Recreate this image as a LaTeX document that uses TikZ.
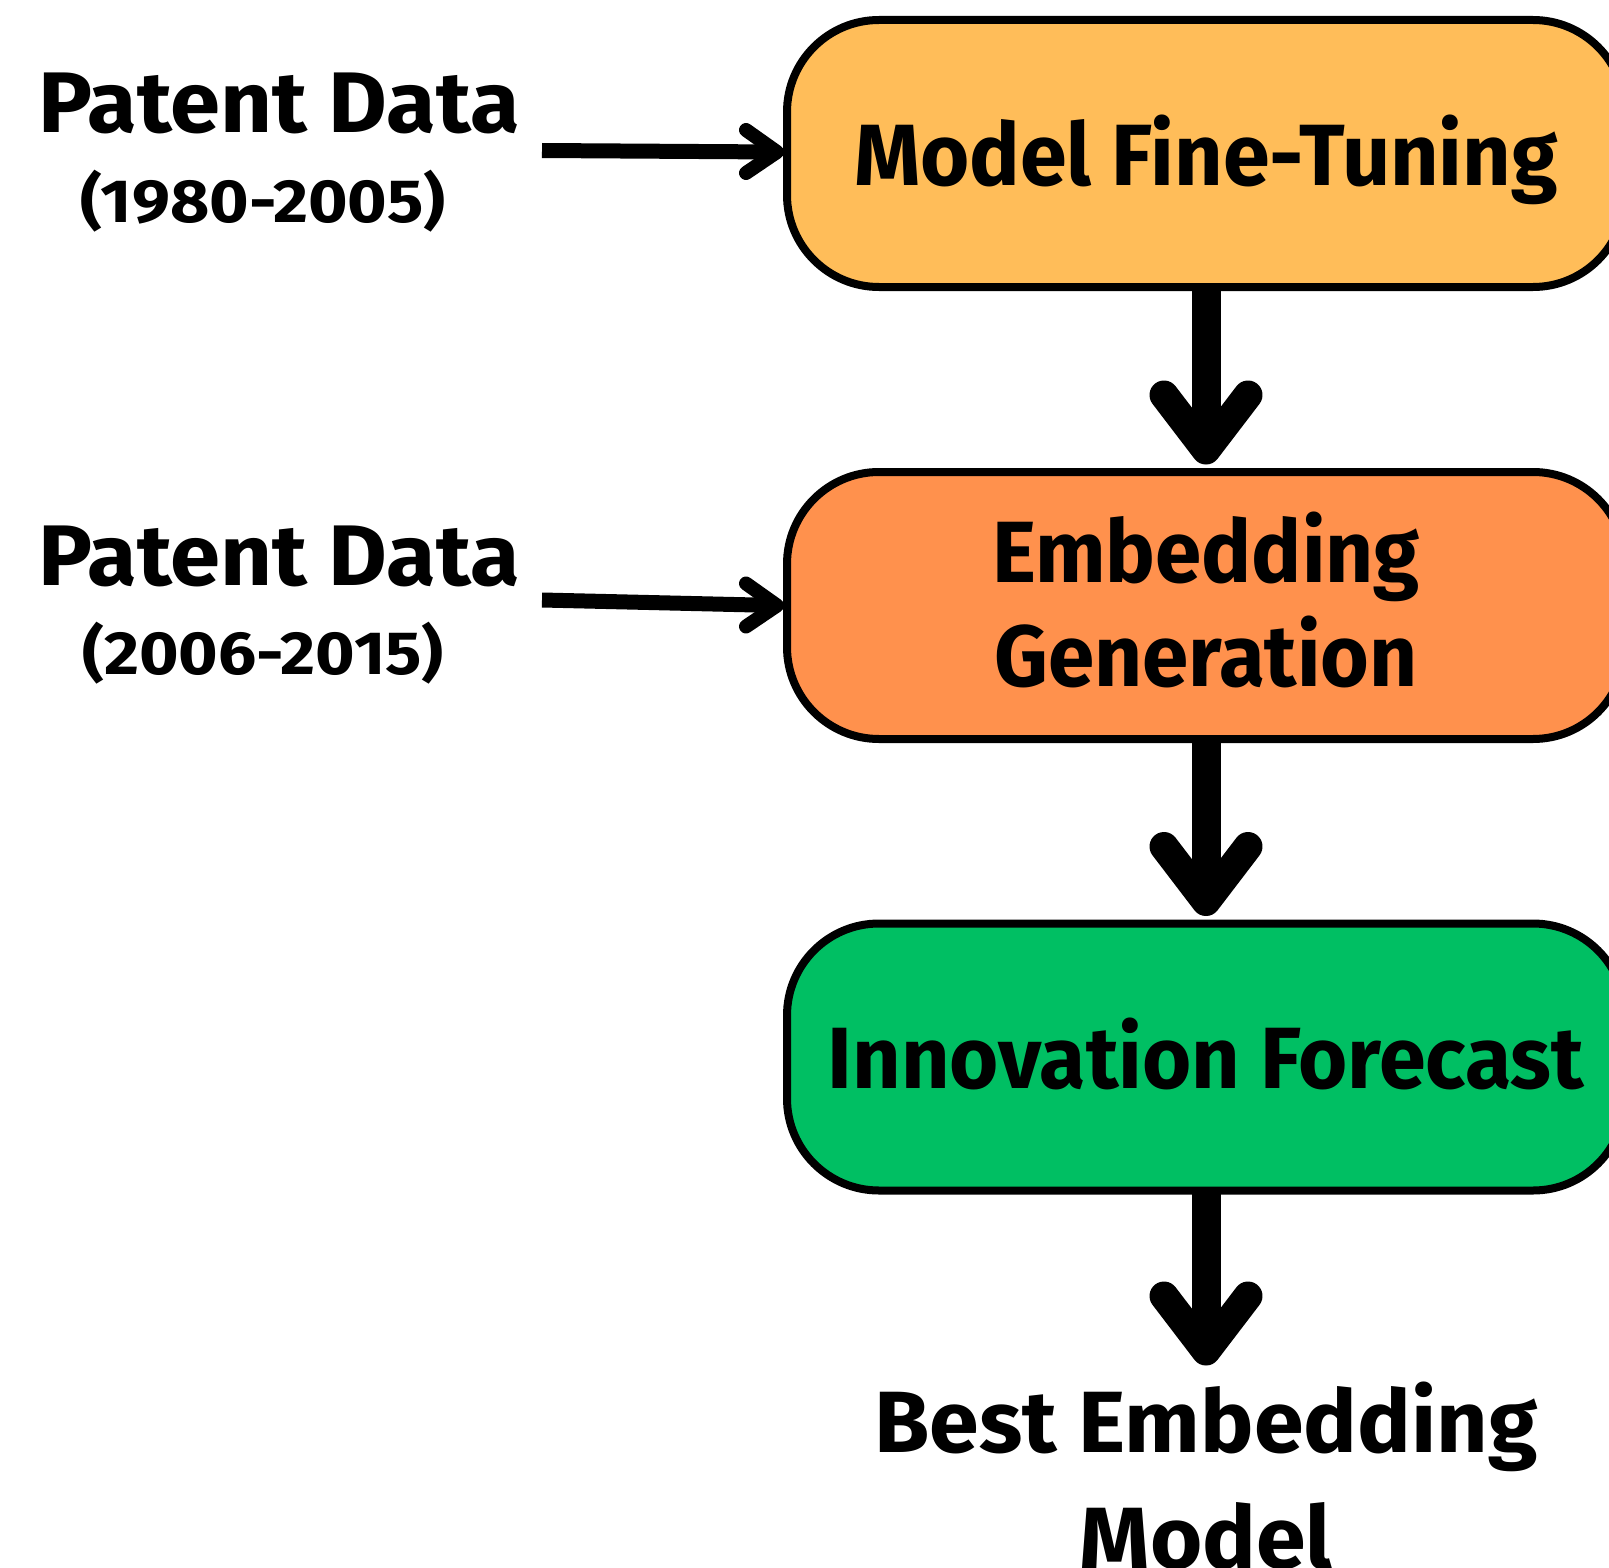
\documentclass[tikz,border=0pt]{standalone}
\usepackage{fontspec}
\setmainfont{Fira Sans}
\newfontfamily\boxfont{Fira Sans}[FakeStretch=0.97]
\newfontfamily\embfont{Fira Sans}[FakeStretch=0.96]
\newfontfamily\titlefont{Fira Sans}[FakeStretch=1.05]
\newfontfamily\yearfont{Fira Sans}[FakeStretch=1.11]
\newfontfamily\outfont{Fira Sans}[FakeStretch=1.03]
\usetikzlibrary{calc}
\definecolor{boxA}{HTML}{FFBD59}
\definecolor{boxB}{HTML}{FF914D}
\definecolor{boxC}{HTML}{00BF63}
\begin{document}
\begin{tikzpicture}[x=1pt,y=-1pt,
  stage/.style={draw=black, line width=8pt, rounded corners=92pt,
    minimum width=838pt, minimum height=267pt, inner sep=0pt, outer sep=0pt,
    align=center, font=\boxfont\bfseries\fontsize{87}{104}\selectfont},
  title/.style={font=\titlefont\bfseries\fontsize{86}{100}\selectfont, inner sep=0pt, anchor=base},
  years/.style={font=\yearfont\bfseries\fontsize{61}{70}\selectfont, inner sep=0pt, anchor=base},
  outtext/.style={font=\outfont\bfseries\fontsize{87}{116}\selectfont, inner sep=0pt, anchor=base, align=center},
  hshaft/.style={line width=15pt},
  hchev/.style={line width=14pt, line cap=round, line join=round},
  dshaft/.style={line width=29pt},
  dchev/.style={line width=29pt, line cap=round, line join=round}
]
\useasboundingbox (0,0) rectangle (1609,1568);

\node[stage, fill=boxA, text height=63pt, text depth=0pt] (b1) at (1206,153.5) {Model Fine-Tuning};
\node[stage, fill=boxB, text height=161pt, text depth=0pt, font=\embfont\bfseries\fontsize{87}{104}\selectfont] (b2) at (1206,605.5) {Embedding\\Generation};
\node[stage, fill=boxC, text height=63pt, text depth=0pt] (b3) at (1206,1057) {Innovation Forecast};

\node[title] (p1) at (279,133) {Patent Data};
\node[years] (y1) at (263,222) {(1980-2005)};
\node[title] (p2) at (279,585) {Patent Data};
\node[years] (y2) at (263,674) {(2006-2015)};
\node[outtext] (out) at (1206,1568) {Best Embedding\\Model};

% horizontal input arrows
\coordinate (s1) at (542,150.5);
\coordinate (h1) at ($(b1.west)+(-10,-1.5)$);
\draw[hshaft] (s1) -- (h1);
\draw[hchev] ($(h1)+(-31,-22)$) -- (h1) -- ($(h1)+(-31,21)$);

\coordinate (s2) at (542,600);
\coordinate (h2) at ($(b2.west)+(-10,0)$);
\draw[hshaft] (s2) -- (h2);
\draw[hchev] ($(h2)+(-31,-22)$) -- (h2) -- ($(h2)+(-31,21)$);

% vertical flow arrows
\coordinate (v1) at ($(b2.north)+(0,-22)$);
\draw[dshaft] (b1.south) -- (v1);
\draw[dchev] ($(v1)+(-42,-55)$) -- (v1) -- ($(v1)+(42,-55)$);

\coordinate (v2) at ($(b3.north)+(0,-22)$);
\draw[dshaft] (b2.south) -- (v2);
\draw[dchev] ($(v2)+(-42,-55)$) -- (v2) -- ($(v2)+(42,-55)$);

\coordinate (v3) at (1206,1351);
\draw[dshaft] (b3.south) -- (v3);
\draw[dchev] ($(v3)+(-42,-55)$) -- (v3) -- ($(v3)+(42,-55)$);
\end{tikzpicture}
\end{document}
